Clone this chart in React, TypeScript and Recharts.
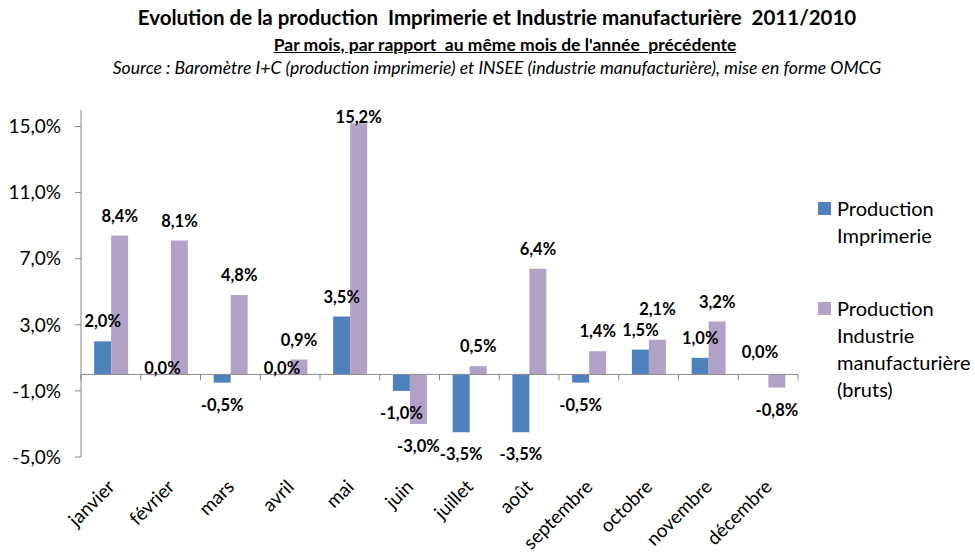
import React from 'react';
import { BarChart, Bar, XAxis, YAxis, ReferenceLine, LabelList } from 'recharts';

const months = ['janvier', 'février', 'mars', 'avril', 'mai', 'juin', 'juillet', 'août', 'septembre', 'octobre', 'novembre', 'décembre'];
const imprimerie = [2.0, 0.0, -0.5, 0.0, 3.5, -1.0, -3.5, -3.5, -0.5, 1.5, 1.0, 0.0];
const industrie = [8.4, 8.1, 4.8, 0.9, 15.2, -3.0, 0.5, 6.4, 1.4, 2.1, 3.2, -0.8];
const yTicks = [-5, -1, 3, 7, 11, 15];

const data = months.map((m, i) => ({ month: m, imp: imprimerie[i], ind: industrie[i] }));

const BLUE = '#4F81BD';
const PURPLE = '#B3A2C7';
const FONT = 'Lato, "Open Sans", sans-serif';

const W = 975;
const H = 553;
const X_AXIS_H = 30;
const M = { top: 110, right: 177, bottom: 96 - X_AXIS_H, left: 0 };
const Y_AXIS_W = 81;
const DOMAIN: [number, number] = [-5, 16];

const plotW = W - M.left - M.right - Y_AXIS_W;
const plotH = H - M.top - M.bottom - X_AXIS_H;
const bandW = plotW / months.length;
const yPix = (v: number) => M.top + ((DOMAIN[1] - v) / (DOMAIN[1] - DOMAIN[0])) * plotH;

const fmt = (v: number) => v.toFixed(1).replace('.', ',') + '%';

// label gets the formatted text; zero bars get a tiny minPointSize so they keep a label
const makeLabel = (other: number[], second: boolean) => (props: any) => {
  const { x, y, width, height, value } = props;
  const num = parseFloat(String(value).replace(',', '.'));
  const i = Math.floor((x - Y_AXIS_W - M.left) / bandW);
  const top = Math.min(y, y + height);
  const bottom = Math.max(y, y + height);
  let cy: number;
  if (num > 0) cy = top - 20;
  else if (num < 0) cy = bottom + 22;
  else cy = other[i] > 0 ? yPix(0) - 6 : yPix(0) - 22;
  // push the second label up when it would sit on the first one
  if (second && num > 0 && other[i] > 0) {
    const firstCy = yPix(other[i]) - 20;
    if (cy > firstCy - 20) cy = firstCy - 21;
  }
  // keep inside the plot area
  cy = Math.max(cy, M.top + 7);
  return (
    <text x={x + width / 2} y={cy} textAnchor="middle" dominantBaseline="central"
      fontFamily={FONT} fontWeight="bold" fontSize={16.5} fill="#000">
      {value}
    </text>
  );
};

const MonthTick = (props: any) => {
  const { x, y, payload, index } = props;
  const zy = yPix(0);
  const ax = x + 5;
  const ay = y + 23;
  const last = index === months.length - 1;
  return (
    <g>
      <line x1={x - bandW / 2} x2={x - bandW / 2} y1={zy} y2={zy + 6} stroke="#888" />
      {last && <line x1={x + bandW / 2} x2={x + bandW / 2} y1={zy} y2={zy + 6} stroke="#888" />}
      <text x={ax} y={ay} textAnchor="end" transform={`rotate(-45, ${ax}, ${ay})`}
        fontFamily={FONT} fontSize={19} fill="#000">
        {payload.value}
      </text>
    </g>
  );
};

const minSize = (v: any) => (v === 0 ? 0.01 : 0);

const legendItems = [
  { color: BLUE, lines: ['Production', 'Imprimerie'], top: 195 },
  { color: PURPLE, lines: ['Production', 'Industrie', 'manufacturière', '(bruts)'], top: 295 },
];

export default function App() {
  return (
    <div style={{ position: 'absolute', left: 0, top: 0, width: W, height: H, background: '#fff', fontFamily: FONT }}>
      <div style={{ position: 'absolute', left: 0, width: 994, top: 5, textAlign: 'center', fontWeight: 'bold', fontSize: 20.5 }}>
        Evolution de la production&nbsp; Imprimerie et Industrie manufacturière&nbsp; 2011/2010
      </div>
      <div style={{ position: 'absolute', left: 0, width: 1010, top: 34, textAlign: 'center', fontWeight: 'bold', fontSize: 17.5, textDecoration: 'underline' }}>
        Par mois, par rapport&nbsp; au même mois de l'année&nbsp; précédente
      </div>
      <div style={{ position: 'absolute', left: 0, width: 994, top: 57, textAlign: 'center', fontStyle: 'italic', fontSize: 17.6 }}>
        Source : Baromètre I+C (production imprimerie) et INSEE (industrie manufacturière), mise en forme OMCG
      </div>
      <BarChart width={W} height={H} data={data} margin={M} barGap={0} barCategoryGap="22%">
        <XAxis dataKey="month" height={X_AXIS_H} axisLine={false} tickLine={false} tick={<MonthTick />} interval={0} />
        <YAxis domain={DOMAIN} ticks={yTicks} width={Y_AXIS_W} tickSize={6} tickMargin={14}
          allowDataOverflow stroke="#888" tickFormatter={fmt}
          tick={{ fill: '#000', fontSize: 19, fontFamily: FONT }} />
        <ReferenceLine y={0} stroke="#888" />
        <Bar dataKey="imp" fill={BLUE} isAnimationActive={false} minPointSize={minSize}>
          <LabelList dataKey={(d: any) => fmt(d.imp)} content={makeLabel(industrie, false)} />
        </Bar>
        <Bar dataKey="ind" fill={PURPLE} isAnimationActive={false} minPointSize={minSize}>
          <LabelList dataKey={(d: any) => fmt(d.ind)} content={makeLabel(imprimerie, true)} />
        </Bar>
      </BarChart>
      {legendItems.map((it, i) => (
        <div key={i} style={{ position: 'absolute', left: 818, top: it.top, fontSize: 20, lineHeight: '27px' }}>
          <span style={{ position: 'absolute', left: 0, top: 7, width: 13, height: 13, background: it.color }} />
          <div style={{ marginLeft: 19 }}>
            {it.lines.map((l, j) => <div key={j}>{l}</div>)}
          </div>
        </div>
      ))}
    </div>
  );
}
